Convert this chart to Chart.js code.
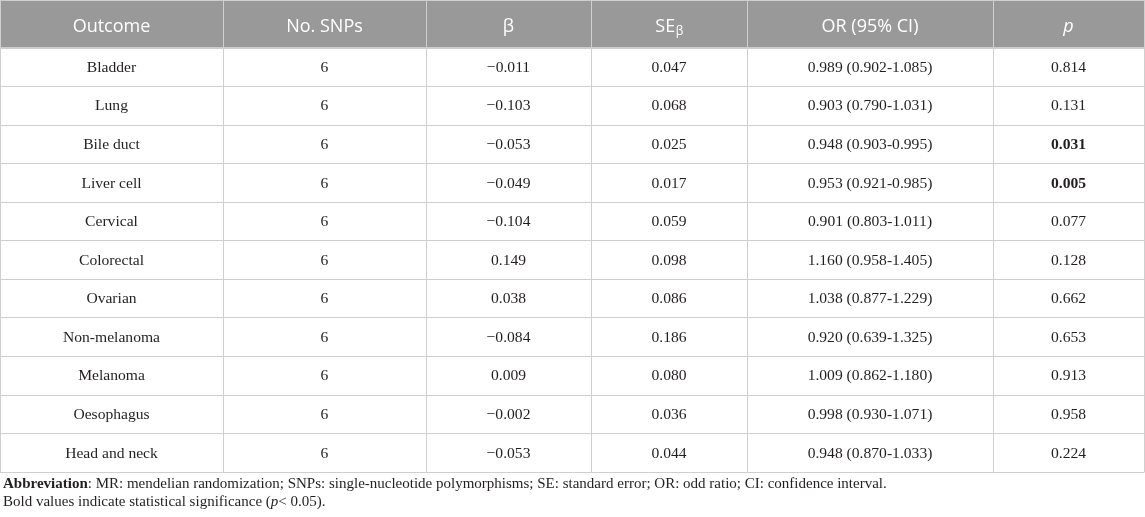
<!DOCTYPE html>
<html>
<head>
<meta charset="utf-8">
<script src="https://cdn.jsdelivr.net/npm/chart.js@4/dist/chart.umd.min.js"></script>
<style>
  html, body { margin: 0; padding: 0; background: #ffffff; }
  #wrap { position: relative; width: 1145px; height: 517px; }
</style>
</head>
<body>
<div id="wrap"><canvas id="c"></canvas></div>
<script>
// ---- data ----
const headers = ["Outcome", "No. SNPs", "\u03B2", "SE\u03B2", "OR (95% CI)", "p"];
const outcomes = ["Bladder", "Lung", "Bile duct", "Liver cell", "Cervical", "Colorectal",
                  "Ovarian", "Non-melanoma", "Melanoma", "Oesophagus", "Head and neck"];
const nSnps   = [6, 6, 6, 6, 6, 6, 6, 6, 6, 6, 6];
const beta    = [-0.011, -0.103, -0.053, -0.049, -0.104, 0.149, 0.038, -0.084, 0.009, -0.002, -0.053];
const seBeta  = [0.047, 0.068, 0.025, 0.017, 0.059, 0.098, 0.086, 0.186, 0.080, 0.036, 0.044];
const orVal   = [0.989, 0.903, 0.948, 0.953, 0.901, 1.160, 1.038, 0.920, 1.009, 0.998, 0.948];
const ciLow   = [0.902, 0.790, 0.903, 0.921, 0.803, 0.958, 0.877, 0.639, 0.862, 0.930, 0.870];
const ciHigh  = [1.085, 1.031, 0.995, 0.985, 1.011, 1.405, 1.229, 1.325, 1.180, 1.071, 1.033];
const pVals   = [0.814, 0.131, 0.031, 0.005, 0.077, 0.128, 0.662, 0.653, 0.913, 0.958, 0.224];
const sigLevel = 0.05;
const footAbbrevLabel = "Abbreviation";
const footAbbrevText = ": MR: mendelian randomization; SNPs: single-nucleotide polymorphisms; SE: standard error; OR: odd ratio; CI: confidence interval.";
const footBold1 = "Bold values indicate statistical significance (";
const footBoldP = "p";
const footBold2 = "< 0.05).";

// ---- layout (x-scale units) ----
const colEdges = [0, 223, 426, 591, 747, 993, 1144];
const headerH = 47.5;
const tableBottomPad = 45.3;

const fmt3 = v => (v < 0 ? "\u2212" : "") + Math.abs(v).toFixed(3);

const HEAD_BG = "#999999";
const GRID = "#cfcfcf";
const TEXT = "#231f20";
const SERIF = "'Liberation Serif', 'DejaVu Serif', serif";
const SANS = "'Open Sans', 'Noto Sans', sans-serif";
const BODY_PX = "15.6px ";
const FOOT_PX = "15px ";
const HEAD_PX = "18px ";

const tablePlugin = {
  id: "tablePlugin",
  afterDraw(chart) {
    const ctx = chart.ctx;
    const xs = chart.scales.x, ys = chart.scales.y;
    const top = chart.chartArea.top, bottom = chart.chartArea.bottom;
    const n = outcomes.length;
    const band = (bottom - top) / n;
    const X = v => xs.getPixelForValue(v);
    const colCenter = i => (X(colEdges[i]) + X(colEdges[i + 1])) / 2;
    ctx.save();

    // header background
    ctx.fillStyle = HEAD_BG;
    ctx.fillRect(X(colEdges[0]), 1, X(colEdges[colEdges.length - 1]) - X(colEdges[0]), top - 1);

    // grid lines
    ctx.strokeStyle = GRID;
    ctx.lineWidth = 1;
    ctx.beginPath();
    ctx.moveTo(X(colEdges[0]), 0.5); ctx.lineTo(X(colEdges[6]), 0.5);
    for (let i = 0; i <= n; i++) {
      const yy = Math.round(top + i * band) + 0.5;
      ctx.moveTo(X(colEdges[0]), yy); ctx.lineTo(X(colEdges[6]), yy);
    }
    for (let j = 0; j < colEdges.length; j++) {
      const xx = Math.round(X(colEdges[j])) + 0.5;
      ctx.moveTo(xx, 0); ctx.lineTo(xx, Math.round(bottom) + 0.5);
    }
    ctx.stroke();

    // header text
    ctx.fillStyle = "#ffffff";
    ctx.textBaseline = "alphabetic";
    ctx.textAlign = "center";
    const hy = top - 16;
    ctx.font = HEAD_PX + SANS;
    ctx.fillText(headers[0], colCenter(0), hy);
    ctx.fillText(headers[1], colCenter(1), hy);
    ctx.fillText(headers[2], colCenter(2), hy);
    {
      const main = headers[3].slice(0, 2), sub = headers[3].slice(2);
      ctx.font = HEAD_PX + SANS;
      const w1 = ctx.measureText(main).width;
      ctx.font = "12px " + SANS;
      const w2 = ctx.measureText(sub).width;
      const sx = colCenter(3) - (w1 + w2) / 2;
      ctx.textAlign = "left";
      ctx.font = HEAD_PX + SANS;
      ctx.fillText(main, sx, hy);
      ctx.font = "12px " + SANS;
      ctx.fillText(sub, sx + w1 + 0.5, hy + 3);
      ctx.textAlign = "center";
    }
    ctx.font = HEAD_PX + SANS;
    ctx.fillText(headers[4], colCenter(4), hy);
    ctx.font = "italic " + HEAD_PX + SANS;
    ctx.fillText(headers[5], colCenter(5), hy);

    // body
    ctx.fillStyle = TEXT;
    ctx.textBaseline = "middle";
    for (let i = 0; i < n; i++) {
      const cy = ys.getPixelForValue(i) + 1;
      ctx.font = BODY_PX + SERIF;
      ctx.fillText(outcomes[i], colCenter(0), cy);
      ctx.fillText(String(nSnps[i]), colCenter(1), cy);
      ctx.fillText(fmt3(beta[i]), colCenter(2), cy);
      ctx.fillText(fmt3(seBeta[i]), colCenter(3), cy);
      ctx.fillText(orVal[i].toFixed(3) + " (" + ciLow[i].toFixed(3) + "-" + ciHigh[i].toFixed(3) + ")", colCenter(4), cy);
      ctx.font = (pVals[i] < sigLevel ? "bold " : "") + BODY_PX + SERIF;
      ctx.fillText(pVals[i].toFixed(3), colCenter(5), cy);
    }

    // footnotes
    ctx.textAlign = "left";
    const fx = 3;
    let fy = bottom + 12;
    ctx.font = "bold " + FOOT_PX + SERIF;
    ctx.fillText(footAbbrevLabel, fx, fy);
    let w = ctx.measureText(footAbbrevLabel).width;
    ctx.font = FOOT_PX + SERIF;
    ctx.fillText(footAbbrevText, fx + w, fy);
    fy += 18;
    ctx.fillText(footBold1, fx, fy);
    w = ctx.measureText(footBold1).width;
    ctx.font = "italic " + FOOT_PX + SERIF;
    ctx.fillText(footBoldP, fx + w, fy);
    w += ctx.measureText(footBoldP).width;
    ctx.font = FOOT_PX + SERIF;
    ctx.fillText(footBold2, fx + w, fy);
    ctx.restore();
  }
};

new Chart(document.getElementById("c"), {
  type: "bar",
  data: {
    labels: outcomes,
    datasets: [{ label: "p", data: pVals, backgroundColor: "rgba(0,0,0,0)", borderWidth: 0 }]
  },
  options: {
    indexAxis: "y",
    responsive: true,
    maintainAspectRatio: false,
    animation: false,
    events: [],
    layout: { padding: { top: headerH, bottom: tableBottomPad, left: 0, right: 0 } },
    plugins: { legend: { display: false }, tooltip: { enabled: false }, title: { display: false } },
    scales: {
      x: { type: "linear", min: 0, max: 1145, display: false },
      y: { type: "category", offset: true, display: false }
    }
  },
  plugins: [tablePlugin]
});
</script>
</body>
</html>
